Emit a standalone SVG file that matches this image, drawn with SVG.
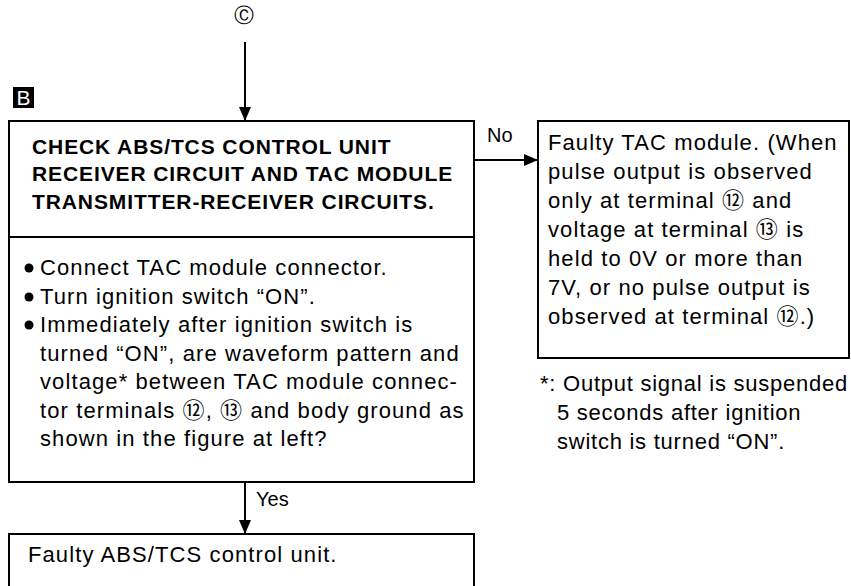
<svg xmlns="http://www.w3.org/2000/svg" width="851" height="586" viewBox="0 0 851 586">
<style>
.box{fill:#fff;stroke:#000;stroke-width:2}
.line{stroke:#000;stroke-width:2;fill:none}
.hd{font-family:"Liberation Sans",Arial,sans-serif;font-weight:bold;font-size:21px;letter-spacing:0.9px;fill:#000}
.tx{font-family:"Liberation Sans",Arial,"DejaVu Sans","Noto Sans CJK JP",sans-serif;font-size:22px;letter-spacing:1.1px;fill:#000}
.nt{letter-spacing:0.75px}
.lb{font-family:"Liberation Sans",Arial,sans-serif;font-size:20px;fill:#000}
</style>
<defs>
<marker id="arr" markerWidth="14" markerHeight="12" refX="14" refY="6" orient="auto" markerUnits="userSpaceOnUse">
<path d="M0,0 L14,6 L0,12 Z" fill="#000"/>
</marker>
</defs>
<rect width="851" height="586" fill="#fff"/>
<g id="connectors">
<line class="line" x1="245" y1="42" x2="245" y2="121" marker-end="url(#arr)"/>
<line class="line" x1="474" y1="160" x2="538" y2="160" marker-end="url(#arr)"/>
<text class="lb" x="487" y="142">No</text>
<line class="line" x1="245" y1="482" x2="245" y2="534" marker-end="url(#arr)"/>
<text class="lb" x="256" y="506">Yes</text>
</g>
<g id="start">
<text x="244" y="22" text-anchor="middle" style="font-family:'DejaVu Sans',sans-serif;font-size:20px">Ⓒ</text>
</g>
<g id="label-b">
<rect x="13" y="87" width="21" height="21" fill="#000"/>
<text x="23.5" y="105" text-anchor="middle" style="font-family:'Liberation Sans',Arial,sans-serif;font-size:21px;fill:#fff">B</text>
</g>
<g id="check">
<rect class="box" x="9" y="121" width="465" height="361"/>
<line class="line" x1="9" y1="237" x2="474" y2="237"/>
<text class="hd" x="32" y="154">CHECK ABS/TCS CONTROL UNIT</text>
<text class="hd" x="32" y="181">RECEIVER CIRCUIT AND TAC MODULE</text>
<text class="hd" x="32" y="209">TRANSMITTER-RECEIVER CIRCUITS.</text>
<circle cx="29" cy="268" r="4.5"/>
<circle cx="29" cy="297" r="4.5"/>
<circle cx="29" cy="325" r="4.5"/>
<text class="tx" x="40" y="275">Connect TAC module connector.</text>
<text class="tx" x="40" y="304">Turn ignition switch “ON”.</text>
<text class="tx" x="40" y="332">Immediately after ignition switch is</text>
<text class="tx" x="40" y="361">turned “ON”, are waveform pattern and</text>
<text class="tx" x="40" y="389">voltage* between TAC module connec-</text>
<text class="tx" x="40" y="418">tor terminals ⑫, ⑬ and body ground as</text>
<text class="tx" x="40" y="446">shown in the figure at left?</text>
</g>
<g id="faulty-tac">
<rect class="box" x="538" y="121" width="311" height="237"/>
<text class="tx" x="548" y="150">Faulty TAC module. (When</text>
<text class="tx" x="548" y="179">pulse output is observed</text>
<text class="tx" x="548" y="208">only at terminal ⑫ and</text>
<text class="tx" x="548" y="237">voltage at terminal ⑬ is</text>
<text class="tx" x="548" y="266">held to 0V or more than</text>
<text class="tx" x="548" y="295">7V, or no pulse output is</text>
<text class="tx" x="548" y="324">observed at terminal ⑫.)</text>
</g>
<g id="note">
<text class="tx nt" x="540" y="391">*: Output signal is suspended</text>
<text class="tx nt" x="557" y="420">5 seconds after ignition</text>
<text class="tx nt" x="557" y="449">switch is turned “ON”.</text>
</g>
<g id="faulty-abs">
<rect class="box" x="9" y="534" width="465" height="80"/>
<text class="tx" x="28" y="562">Faulty ABS/TCS control unit.</text>
</g>
</svg>
